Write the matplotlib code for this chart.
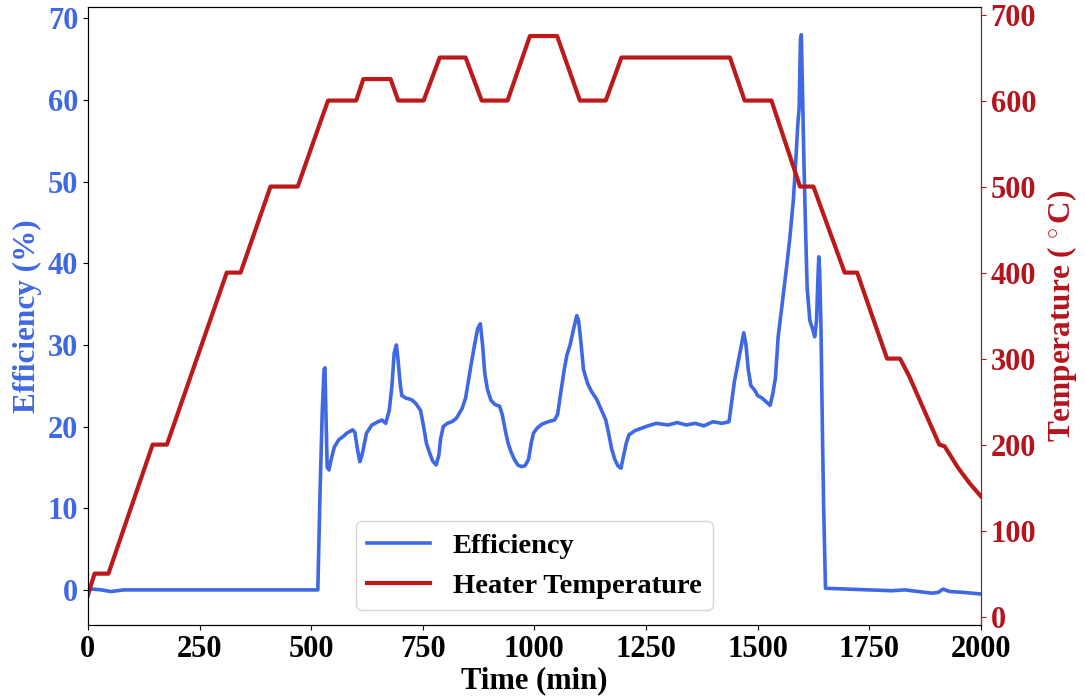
import matplotlib
matplotlib.use("Agg")
import matplotlib.pyplot as plt

plt.rcParams['font.family'] = ['Liberation Serif', 'DejaVu Serif']
plt.rcParams['font.weight'] = 'bold'
plt.rcParams['mathtext.fontset'] = 'custom'
plt.rcParams['mathtext.rm'] = 'Liberation Serif:bold'
plt.rcParams['mathtext.it'] = 'Liberation Serif:bold'
plt.rcParams['mathtext.bf'] = 'Liberation Serif:bold'

# ---- data ----
temp_time = [0, 15, 46, 145, 177, 311, 342, 409, 470, 520, 538, 601, 617, 678,
             695, 752, 788, 846, 882, 940, 990, 1051, 1102, 1160, 1195, 1438,
             1471, 1531, 1595, 1625, 1695, 1723, 1755, 1790, 1819, 1840, 1873,
             1907, 1919, 1949, 1975, 2000]
temp_vals = [25, 50, 50, 200, 200, 400, 400, 500, 500, 574, 600, 600, 625, 625,
             600, 600, 650, 650, 600, 600, 675, 675, 600, 600, 650, 650,
             600, 600, 500, 500, 400, 400, 352, 300, 300, 279, 240,
             200, 198, 173, 155, 140]

eff_time = [0, 10, 30, 52, 80, 150, 300, 450, 515, 520, 525, 529, 531, 533, 536,
            540, 545, 552, 562, 572, 580, 593, 598, 603, 609, 614, 624, 636,
            650, 659, 667, 675, 681, 686, 691, 695, 699, 703, 712, 725, 735,
            745, 752, 758, 764, 772, 780, 786, 790, 796, 805, 815, 825, 838,
            846, 852, 858, 866, 873, 879, 884, 889, 895, 903, 912, 922, 928,
            935, 941, 947, 955, 963, 971, 979, 987, 993, 998, 1006, 1017, 1031,
            1045, 1052, 1060, 1067, 1073, 1080, 1088, 1095, 1099, 1104, 1110,
            1119, 1128, 1140, 1152, 1160, 1167, 1173, 1180, 1187, 1194, 1200,
            1206, 1212, 1225, 1240, 1255, 1273, 1300, 1320, 1340, 1360, 1380,
            1400, 1420, 1436, 1442, 1448, 1455, 1462, 1469, 1474, 1479, 1485,
            1493, 1500, 1510, 1520, 1528, 1534, 1540, 1546, 1555, 1565, 1572,
            1580, 1586, 1590, 1593, 1596, 1598, 1601, 1604, 1608, 1611, 1617,
            1624, 1628, 1632, 1635, 1637, 1639, 1642, 1645, 1648, 1652, 1700,
            1750, 1800, 1830, 1860, 1890, 1905, 1915, 1930, 1960, 2000]
eff_vals = [0.0, 0.1, 0.0, -0.2, 0.0, 0.0, 0.0, 0.0, 0.0, 12, 22, 27, 27.2, 22, 15,
            14.7, 16, 17.5, 18.4, 18.8, 19.2, 19.6, 19.3, 17.5, 15.7, 16.5, 19.2, 20.2,
            20.6, 20.8, 20.4, 22, 25, 29, 30, 28, 25.5, 23.8, 23.5, 23.3, 22.8,
            22, 20, 18, 17, 15.8, 15.3, 16.5, 18.5, 20, 20.4, 20.6, 21, 22.2,
            23.5, 25.5, 27.5, 30, 32, 32.6, 30, 26.5, 24.5, 23.2, 22.7, 22.5, 21.5,
            19.5, 18, 17, 16, 15.3, 15.1, 15.2, 16, 18, 19.2, 19.8, 20.3, 20.6,
            20.8, 21.5, 24.5, 27, 28.8, 30, 32, 33.6, 33, 30.5, 27,
            25.3, 24.3, 23.3, 21.8, 20.8, 19, 17.3, 16, 15.2, 14.9, 16.5,
            18, 19, 19.5, 19.8, 20.1, 20.4, 20.2, 20.5, 20.2, 20.4, 20.1,
            20.6, 20.4, 20.6, 23, 25.5, 27.5, 29.5, 31.5, 30, 27, 25,
            24.5, 23.8, 23.5, 23, 22.6, 24, 26, 31, 35, 39.6, 43,
            47.7, 53, 57, 59, 67.5, 68, 60, 51.8, 43, 37, 33,
            31.8, 31, 33, 38, 40.8, 39, 32, 20, 10, 0.2, 0.1,
            0.0, -0.1, 0.0, -0.2, -0.4, -0.3, 0.1, -0.2, -0.3, -0.5]

x_ticks = [0, 250, 500, 750, 1000, 1250, 1500, 1750, 2000]
eff_ticks = [0, 10, 20, 30, 40, 50, 60, 70]
temp_ticks = [0, 100, 200, 300, 400, 500, 600, 700]

blue = '#3F68E4'
red = '#BC1A1A'
red_txt = '#B5141C'

fig = plt.figure(figsize=(10.85, 6.96), dpi=100)
ax = fig.add_axes([0.081, 0.102, 0.823, 0.888])
ax2 = ax.twinx()

l1, = ax.plot(eff_time, eff_vals, color=blue, lw=2.6, label='Efficiency')
l2, = ax2.plot(temp_time, temp_vals, color=red, lw=3.0, label='Heater Temperature')

ax.set_xlim(0, 2000)
ax.set_ylim(-4.3, 71.4)
ax2.set_ylim(-9.7, 708.8)
ax.set_xticks(x_ticks)
ax.set_yticks(eff_ticks)
ax2.set_yticks(temp_ticks)

fs = 22
ax.tick_params(axis='x', labelsize=fs, colors='black')
ax.tick_params(axis='y', labelsize=fs, labelcolor=blue)
ax2.tick_params(axis='y', labelsize=fs, labelcolor=red_txt, color=red_txt)
ax2.spines['right'].set_color(red_txt)
for lab in ax.get_xticklabels() + ax.get_yticklabels() + ax2.get_yticklabels():
    lab.set_fontweight('bold')

ax.set_xlabel('Time (min)', fontsize=22, fontweight='bold', labelpad=2)
ax.set_ylabel('Efficiency (%)', fontsize=22.5, fontweight='bold', color=blue, labelpad=4)
ax2.set_ylabel(r'Temperature ($\,^\circ$C)', fontsize=22.5, fontweight='bold',
               color=red_txt, labelpad=6)

leg = ax.legend([l1, l2], ['Efficiency', 'Heater Temperature'], loc='lower center',
                bbox_to_anchor=(0.5, 0.024), borderaxespad=0,
                prop={'weight': 'bold', 'size': 20.5},
                handlelength=2.2, framealpha=0.8)

fig.savefig('out.png', dpi=100)
